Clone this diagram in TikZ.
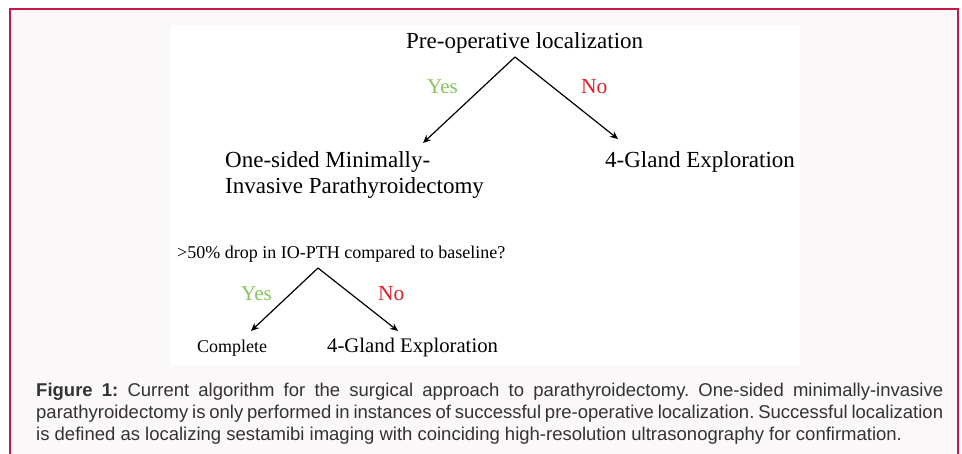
\documentclass[tikz,border=0pt]{standalone}
\usepackage{fontspec}
\setmainfont{Liberation Serif}
\newfontfamily\capfont{Liberation Sans}
\usetikzlibrary{arrows.meta}
\definecolor{framered}{HTML}{C8174A}
\definecolor{panelbg}{HTML}{FBF8F9}
\definecolor{yesgreen}{HTML}{86C65A}
\definecolor{nored}{HTML}{E41E26}
\definecolor{captext}{HTML}{333333}
\tikzset{
  lbl/.style={inner sep=0pt, anchor=base west, text=black},
  big/.style={lbl, font=\fontsize{23}{27}\selectfont},
  mid/.style={lbl, font=\fontsize{20.7}{24}\selectfont},
  small/.style={lbl, font=\fontsize{18}{21}\selectfont},
  yeslbl/.style={lbl, text=yesgreen, font=\fontsize{21}{24}\selectfont},
  nolbl/.style={lbl, text=nored, font=\fontsize{21.5}{24}\selectfont},
  branch/.style={line width=1.2pt, -{Stealth[length=8pt,width=7pt]}},
  captionline/.style={inner sep=0pt, anchor=base west, text=captext,
    font=\capfont\fontsize{18.5}{22}\selectfont\frenchspacing}
}
\begin{document}
\begin{tikzpicture}[x=1pt,y=-1pt]
\useasboundingbox (0,0) rectangle (962,453);
\fill[white] (0,0) rectangle (962,453);
\draw[framered, line width=1.5pt, fill=panelbg] (10,9) -- (10,470) -- (958,470) -- (958,9) -- cycle;
\fill[white] (170,25) rectangle (800,365);

% top tree
\node[big] (pre) at (406,48) {Pre-operative localization};
\coordinate (apexA) at (515,57);
\coordinate (tipAL) at (423,143);
\coordinate (tipAR) at (618,139);
\draw[branch] (apexA) -- (tipAL);
\draw[branch] (apexA) -- (tipAR);
\node[yeslbl] (yesA) at (427,93) {Yes};
\node[nolbl] (noA) at (581,93) {No};
\node[big] (mip1) at (225,167) {One-sided Minimally-};
\node[big] (mip2) at (225,193) {Invasive Parathyroidectomy};
\node[big] (glandA) at (605,167) {4-Gland Exploration};

% bottom tree
\node[small] (drop) at (177,258) {>50\% drop in IO-PTH compared to baseline?};
\coordinate (apexB) at (318,268);
\coordinate (tipBL) at (251,331);
\coordinate (tipBR) at (398,331);
\draw[branch] (apexB) -- (tipBL);
\draw[branch] (apexB) -- (tipBR);
\node[yeslbl] (yesB) at (241,300) {Yes};
\node[nolbl] (noB) at (378,300) {No};
\node[small] (complete) at (197,352) {Complete};
\node[mid] (glandB) at (327,352) {4-Gland Exploration};

% caption
\node[captionline] (cap1) at (36,396) {\makebox[907pt][s]{\textbf{Figure 1:} Current algorithm for the surgical approach to parathyroidectomy. One-sided minimally-invasive}};
\node[captionline] (cap2) at (36,418) {\makebox[907pt][s]{parathyroidectomy is only performed in instances of successful pre-operative localization. Successful localization}};
\node[captionline] (cap3) at (36,440) {is defined as localizing sestamibi imaging with coinciding high-resolution ultrasonography for confirmation.};
\end{tikzpicture}
\end{document}
